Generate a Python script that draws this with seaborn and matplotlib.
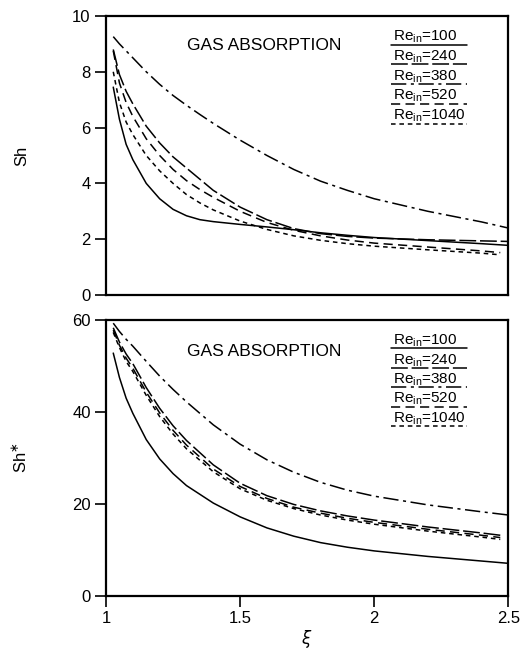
import numpy as np
import pandas as pd
import matplotlib
matplotlib.use("Agg")
import matplotlib.pyplot as plt
import seaborn as sns
from matplotlib.lines import Line2D

# ---------------- data ----------------
re_labels = ["100", "240", "380", "520", "1040"]

x_top = [1.027, 1.05, 1.075, 1.1, 1.15, 1.2, 1.25, 1.3, 1.35, 1.4, 1.5, 1.6, 1.7,
         1.8, 1.9, 2.0, 2.2, 2.4, 2.5]
x_top_short = [1.027, 1.05, 1.075, 1.1, 1.15, 1.2, 1.25, 1.3, 1.35, 1.4, 1.5, 1.6, 1.7,
               1.8, 1.9, 2.0, 2.2, 2.4, 2.47]
sh_100 = [7.45, 6.3, 5.4, 4.85, 4.0, 3.45, 3.07, 2.84, 2.7, 2.63, 2.53, 2.44, 2.34,
          2.23, 2.14, 2.06, 1.95, 1.84, 1.78]
sh_240 = [8.8, 7.9, 7.3, 6.85, 6.05, 5.45, 4.95, 4.55, 4.15, 3.75, 3.15, 2.7, 2.38,
          2.2, 2.1, 2.04, 1.98, 1.94, 1.92]
sh_380 = [9.26, 9.0, 8.75, 8.5, 8.0, 7.55, 7.15, 6.8, 6.47, 6.15, 5.55, 5.0, 4.5,
          4.08, 3.75, 3.45, 3.0, 2.62, 2.4]
sh_520 = [8.75, 7.6, 6.9, 6.4, 5.6, 5.0, 4.5, 4.1, 3.78, 3.5, 3.0, 2.6, 2.32,
          2.12, 1.97, 1.86, 1.72, 1.58, 1.52]
sh_1040 = [8.0, 6.9, 6.2, 5.75, 5.0, 4.45, 4.0, 3.6, 3.3, 3.05, 2.65, 2.35, 2.12,
           1.96, 1.84, 1.75, 1.62, 1.50, 1.44]

x_bot = [1.027, 1.05, 1.075, 1.1, 1.15, 1.2, 1.25, 1.3, 1.4, 1.5, 1.6, 1.7,
         1.8, 1.9, 2.0, 2.2, 2.4, 2.5]
x_bot_short = [1.027, 1.05, 1.075, 1.1, 1.15, 1.2, 1.25, 1.3, 1.4, 1.5, 1.6, 1.7,
               1.8, 1.9, 2.0, 2.2, 2.4, 2.47]
shs_100 = [52.8, 47.5, 43.0, 39.7, 34.0, 29.8, 26.6, 24.0, 20.2, 17.2, 14.8, 13.0,
           11.6, 10.6, 9.8, 8.6, 7.6, 7.1]
shs_240 = [58.3, 55.2, 52.6, 50.5, 45.3, 40.8, 37.0, 33.8, 28.5, 24.5, 21.8, 19.9,
           18.5, 17.4, 16.5, 15.0, 13.7, 13.2]
shs_380 = [59.3, 57.5, 55.8, 54.3, 51.0, 47.8, 44.9, 42.2, 37.2, 33.0, 29.6, 26.9,
           24.7, 23.0, 21.7, 19.8, 18.3, 17.6]
shs_520 = [57.8, 54.5, 51.7, 49.5, 44.3, 39.8, 36.0, 32.8, 27.6, 23.8, 21.2, 19.3,
           18.0, 16.9, 16.0, 14.5, 13.2, 12.7]
shs_1040 = [57.3, 54.0, 51.0, 48.8, 43.6, 39.0, 35.2, 32.0, 27.0, 23.3, 20.8, 19.0,
            17.6, 16.5, 15.6, 14.1, 12.8, 12.3]

panel_title = "GAS ABSORPTION"
top_yticks = [0, 2, 4, 6, 8, 10]
bot_yticks = [0, 20, 40, 60]
xticks = [1, 1.5, 2, 2.5]
xtick_labels = ["1", "1.5", "2", "2.5"]

# ---------------- build tables ----------------
def build(xs, ys):
    rows = []
    for lab, x, y in zip(re_labels, xs, ys):
        for xi, yi in zip(x, y):
            rows.append({"xi": xi, "val": yi, "Re": lab})
    return pd.DataFrame(rows)

df_top = build([x_top, x_top, x_top, x_top_short, x_top_short],
               [sh_100, sh_240, sh_380, sh_520, sh_1040])
df_bot = build([x_bot, x_bot_short, x_bot, x_bot_short, x_bot_short],
               [shs_100, shs_240, shs_380, shs_520, shs_1040])

dash_map = {"100": "", "240": (11, 2.5), "380": (10, 3, 2, 3),
            "520": (6, 3.5), "1040": (3, 2.5)}

# ---------------- plot ----------------
sns.set_theme(style="ticks")
plt.rcParams["font.family"] = ["Liberation Sans", "DejaVu Sans"]
plt.rcParams["mathtext.fontset"] = "dejavusans"

fig = plt.figure(figsize=(5.22, 6.55), dpi=100)
ax1 = fig.add_axes([0.2031, 0.5496, 0.7707, 0.4260])
ax2 = fig.add_axes([0.2031, 0.0901, 0.7707, 0.4214])

for ax, df, yt, ylab in [(ax1, df_top, top_yticks, "Sh"),
                         (ax2, df_bot, bot_yticks, r"Sh$^{\ast}$")]:
    sns.lineplot(data=df, x="xi", y="val", style="Re", dashes=dash_map,
                 color="black", linewidth=1.1, legend=False, ax=ax,
                 estimator=None, sort=False)
    ax.set_xlim(1, 2.5)
    ax.set_ylim(yt[0], yt[-1])
    ax.set_yticks(yt)
    ax.set_yticklabels([str(t) for t in yt], fontsize=12)
    for s in ax.spines.values():
        s.set_linewidth(1.6)
        s.set_color("black")
        s.set_visible(True)
    ax.tick_params(axis="y", direction="out", length=8, width=1.2, pad=3,
                   colors="black")
    ax.set_ylabel(ylab, fontsize=12, color="black")
    ax.yaxis.set_label_coords(-0.19, 0.5)
    ax.text(0.393, 0.895 if ax is ax1 else 0.884, panel_title, transform=ax.transAxes,
            ha="center", va="center", fontsize=12.5, color="black")
    # legend block: text with underline sample
    for i, lab in enumerate(re_labels):
        ty = 0.925 - i * 0.0706
        ax.text(0.713, ty, r"Re$_{\mathregular{in}}$=" + lab, transform=ax.transAxes,
                ha="left", va="center", fontsize=11, color="black")
        ls = "-" if dash_map[lab] == "" else (0, dash_map[lab])
        ax.add_line(Line2D([0.708, 0.897], [ty - 0.028, ty - 0.028],
                           transform=ax.transAxes, color="black",
                           linewidth=1.1, linestyle=ls))

ax1.set_xticks([])
ax1.set_xlabel("")
ax2.set_xticks(xticks)
ax2.set_xticklabels(xtick_labels, fontsize=12)
ax2.tick_params(axis="x", direction="out", length=8, width=1.2, pad=3, colors="black")
ax2.set_xlabel(r"$\xi$", fontsize=12, color="black")
ax2.xaxis.set_label_coords(0.5, -0.115)

fig.savefig("out.png", dpi=100, facecolor="white")
